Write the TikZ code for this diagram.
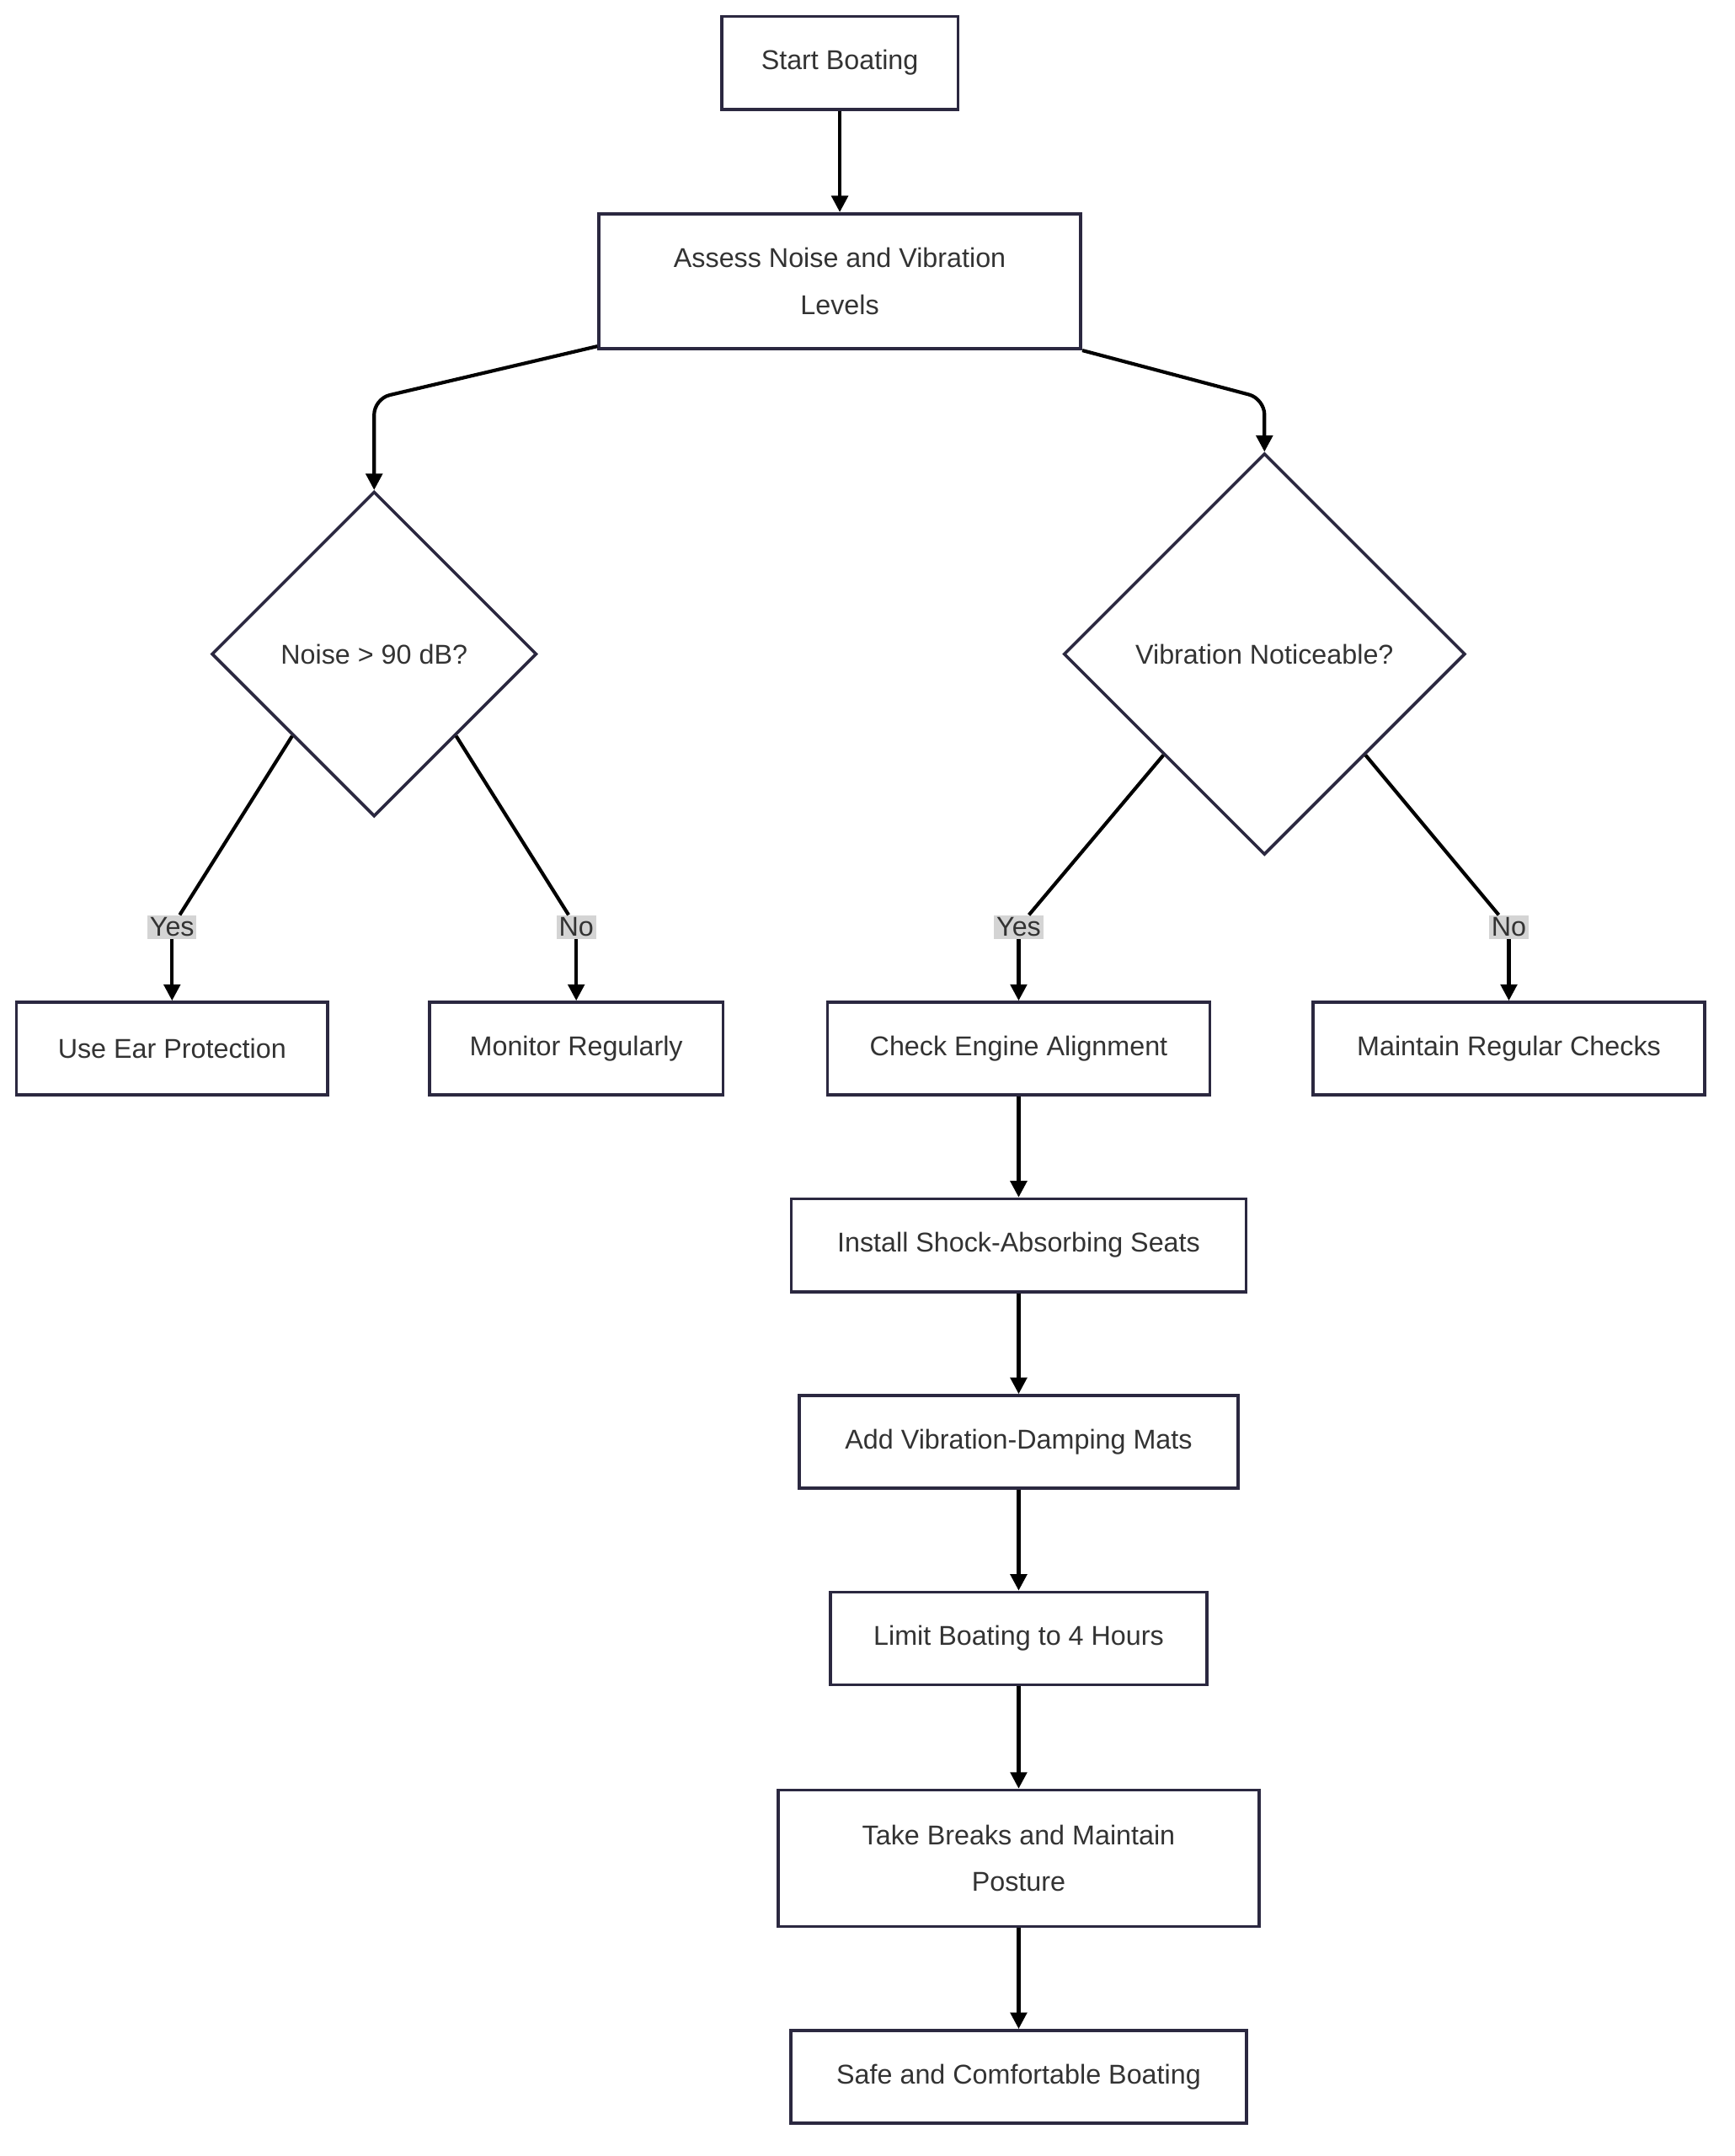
\documentclass[tikz,border=0pt]{standalone}
\usepackage{fontspec}
\setmainfont{Liberation Sans}
\usetikzlibrary{shapes.geometric,arrows.meta}
\definecolor{bd}{HTML}{2B2840}
\definecolor{tx}{HTML}{333333}
\definecolor{lb}{HTML}{D4D4D4}
\begin{document}
\begin{tikzpicture}[x=0.03cm,y=-0.03cm,
  font=\fontsize{17}{29}\selectfont,
  box/.style={draw=bd,line width=1.9pt,fill=white,text=tx,align=center,inner sep=0pt},
  dia/.style={diamond,draw=bd,line width=1.9pt,fill=white,text=tx,inner sep=0pt,aspect=1},
  arr/.style={line width=2.2pt,-{Triangle[length=0.36cm,width=0.36cm]},rounded corners=0.35cm},
  lab/.style={fill=lb,text=tx,inner sep=1.5pt}]
\useasboundingbox (0,0) rectangle (1270,1579);
\node[box,minimum width=173*0.03cm,minimum height=68*0.03cm] (start) at (615,46) {Start Boating};
\node[box,minimum width=353*0.03cm,minimum height=99*0.03cm] (assess) at (615,206) {Assess Noise and Vibration\\Levels};
\node[dia,minimum width=238*0.03cm,minimum height=238*0.03cm] (noise) at (274,479) {Noise > 90 dB?};
\node[dia,minimum width=294*0.03cm,minimum height=294*0.03cm] (vib) at (926,479) {Vibration Noticeable?};
\node[box,minimum width=228*0.03cm,minimum height=68*0.03cm] (ear) at (126,768) {Use Ear Protection};
\node[box,minimum width=215*0.03cm,minimum height=68*0.03cm] (mon) at (422,768) {Monitor Regularly};
\node[box,minimum width=280*0.03cm,minimum height=68*0.03cm] (eng) at (746,768) {Check Engine Alignment};
\node[box,minimum width=287*0.03cm,minimum height=68*0.03cm] (mrc) at (1105,768) {Maintain Regular Checks};
\node[box,minimum width=333*0.03cm,minimum height=68*0.03cm] (seat) at (746,912) {Install Shock-Absorbing Seats};
\node[box,minimum width=321*0.03cm,minimum height=68*0.03cm] (mats) at (746,1056) {Add Vibration-Damping Mats};
\node[box,minimum width=276*0.03cm,minimum height=68*0.03cm] (lim) at (746,1200) {Limit Boating to 4 Hours};
\node[box,minimum width=352*0.03cm,minimum height=100*0.03cm] (brk) at (746,1361) {Take Breaks and Maintain\\Posture};
\node[box,minimum width=334*0.03cm,minimum height=68*0.03cm] (safe) at (746,1521) {Safe and Comfortable Boating};
\coordinate (c1) at (274,292);
\coordinate (c2) at (926,292);
\draw[arr] (assess.south west) ++(0,-3) -- (c1) -- (noise.north);
\draw[arr] (assess.south east) -- (c2) -- (vib.north);
\draw[arr] (start) -- (assess);
\node[lab] (ly1) at (126,679) {Yes};
\node[lab] (ln1) at (422,679) {No};
\node[lab] (ly2) at (746,679) {Yes};
\node[lab] (ln2) at (1105,679) {No};
\draw[line width=2.2pt] (noise.south west) -- (ly1);
\draw[line width=2.2pt] (noise.south east) -- (ln1);
\draw[line width=2.2pt] (vib.south west) -- (ly2);
\draw[line width=2.2pt] (vib.south east) -- (ln2);
\draw[arr] (ly1) -- (ear);
\draw[arr] (ln1) -- (mon);
\draw[arr] (ly2) -- (eng);
\draw[arr] (ln2) -- (mrc);
\draw[arr] (eng) -- (seat);
\draw[arr] (seat) -- (mats);
\draw[arr] (mats) -- (lim);
\draw[arr] (lim) -- (brk);
\draw[arr] (brk) -- (safe);
\end{tikzpicture}
\end{document}
